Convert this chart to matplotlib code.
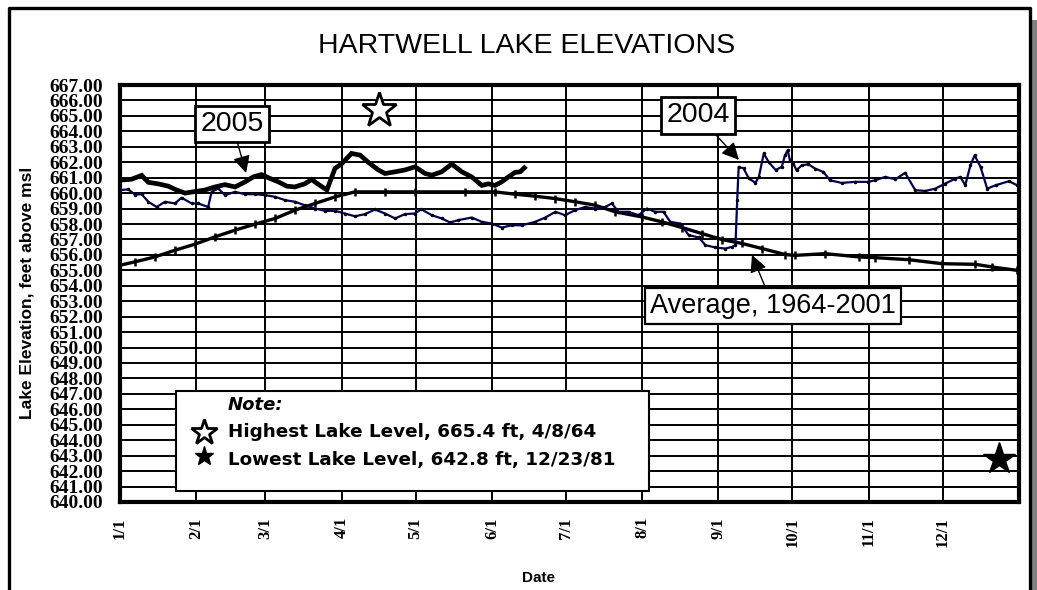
"""
Hartwell Lake elevations: 2004, 2005 and the 1964-2001 average
"""
import matplotlib
matplotlib.use("Agg")
import matplotlib.pyplot as plt
from matplotlib.patches import Rectangle
from matplotlib.lines import Line2D

# day of year -> elevation (ft above msl)
days_2005 = [0, 4.7, 8.8, 11.5, 15.5, 19.6, 23, 26.4, 30.4, 34.5, 38.6, 42.6, 46.7,
             50.8, 54.1, 57.5, 60.9, 64.3, 67.7, 71, 75, 77.8, 81.2, 84, 86, 87.3,
             90, 94, 97.5, 100.8, 104.9, 107.6, 111.7, 115.7, 119.8, 123.9, 126.6,
             130.6, 134.7, 138.8, 142.8, 146.9, 149.6, 152.3, 155, 157.7, 160.4,
             162.5, 164.2]
elev_2005 = [660.84, 660.9, 661.15, 660.7, 660.6, 660.45, 660.2, 660.0, 660.1, 660.2,
             660.4, 660.55, 660.4, 660.73, 661.05, 661.2, 660.95, 660.73, 660.45,
             660.4, 660.6, 660.88, 660.5, 660.2, 661.05, 661.6, 661.9, 662.57,
             662.46, 662.0, 661.5, 661.27, 661.38, 661.5, 661.7, 661.27, 661.16,
             661.38, 661.88, 661.38, 661.05, 660.5, 660.6, 660.5, 660.73, 661.05,
             661.34, 661.38, 661.64]

days_2004 = [0, 3.4, 6.1, 8.8, 11.5, 14.9, 18.3, 22.3, 25, 29.1, 31.8, 35.8, 37.2,
             39.9, 42.6, 46.7, 50.8, 54.8, 58.9, 63, 67.1, 71.1, 75.2, 79.3, 83.3,
             87.4, 91.3, 95.4, 99.5, 103.5, 107.6, 111.7, 115.7, 119.8, 122.3, 126.6,
             130.6, 134, 137.4, 142.8, 146.9, 151, 155, 159.1, 163.2, 168.6, 172.7,
             176.8, 180.7, 184.8, 188.8, 192.9, 197, 199.7, 202.4, 206.5, 210.5,
             213.9, 217.3, 220.7, 223.4, 227.5, 230.9, 235, 237.7, 241.7, 245.8,
             248.5, 249.9, 250.6, 251.2, 253.2, 255.3, 258, 259.4, 261.4, 263.4,
             266.2, 268.7, 270, 271.1, 272, 273.4, 274.7, 276.8, 279.5, 282.2,
             285.6, 288.3, 293, 298.5, 303.9, 306.6, 310.7, 314.8, 318.8, 322.9,
             327, 331, 335.1, 339.2, 341.2, 343.2, 345.3, 347, 349.4, 352.1, 355.5,
             360.9, 364.3]
elev_2004 = [660.2, 660.24, 659.9, 659.93, 659.44, 659.1, 659.44, 659.33, 659.7,
             659.33, 659.33, 659.1, 660.08, 660.3, 659.87, 660.08, 659.93, 659.93,
             659.87, 659.76, 659.54, 659.44, 659.2, 659.0, 658.85, 658.85, 658.68,
             658.5, 658.64, 658.94, 658.68, 658.36, 658.64, 658.68, 658.96, 658.57,
             658.36, 658.1, 658.25, 658.42, 658.14, 658.03, 657.77, 657.92, 657.92,
             658.14, 658.42, 658.79, 658.57, 658.9, 659.1, 659.0, 659.1, 659.33,
             658.79, 658.79, 658.57, 659.0, 658.79, 658.79, 658.14, 658.03, 657.28,
             657.13, 656.63, 656.48, 656.41, 656.52, 656.63, 659.54, 661.7, 661.6,
             660.95, 660.67, 661.05, 662.57, 662.0, 661.5, 661.7, 662.45, 662.78,
             662.13, 661.91, 661.48, 661.8, 661.87, 661.59, 661.37, 660.83, 660.66,
             660.73, 660.73, 660.83, 661.05, 660.9, 661.31, 660.19, 660.14, 660.29,
             660.62, 660.94, 661.05, 660.51, 661.8, 662.45, 661.7, 660.29, 660.51,
             660.77, 660.51]

days_avg = [0, 6.1, 14.2, 22.3, 30.4, 38.6, 46.7, 54.8, 63, 71.1, 79.2, 87.4, 95.4,
            107.6, 119.8, 140, 152.3, 160.4, 168.6, 176.6, 184.8, 192.9, 201, 211.9,
            220, 228.2, 236.3, 244.5, 252.6, 260.7, 270.2, 274.2, 286.4, 299.9,
            306.7, 320.2, 333.8, 347.3, 354, 364.2]
elev_avg = [655.33, 655.55, 655.87, 656.3, 656.69, 657.17, 657.6, 657.99, 658.36,
            658.9, 659.33, 659.76, 660.08, 660.08, 660.08, 660.08, 660.08, 659.93,
            659.8, 659.65, 659.44, 659.22, 658.79, 658.46, 658.14, 657.77, 657.38,
            656.99, 656.74, 656.41, 656.02, 655.97, 656.08, 655.87, 655.82, 655.69,
            655.43, 655.39, 655.22, 655.0]

month_days = [0, 31, 59, 90, 120, 151, 181, 212, 243, 273, 304, 334]
month_labels = ['1/1', '2/1', '3/1', '4/1', '5/1', '6/1', '7/1', '8/1', '9/1',
                '10/1', '11/1', '12/1']
y_ticks = list(range(640, 668))

record_high = (105.0, 665.4)
record_low = (357.0, 642.8)

sans = 'Liberation Sans'
serif = 'Liberation Serif'
wide = 'DejaVu Sans'

fig = plt.figure(figsize=(10.37, 5.90), dpi=100)
ax = fig.add_axes([0.1157, 0.1492, 0.8669, 0.7067])

ax.set_xlim(0, 365)
ax.set_ylim(640, 667)
ax.set_xticks(month_days)
ax.set_xticklabels(month_labels, rotation=90, family=serif, weight='bold', fontsize=12)
ax.set_yticks(y_ticks)
ax.set_yticklabels(['%.2f' % v for v in y_ticks], family=serif, weight='bold', fontsize=14)
ax.tick_params(axis='both', length=0)
ax.tick_params(axis='y', pad=12)
ax.tick_params(axis='x', pad=11)
ax.grid(True, color='black', lw=1.4)
ax.set_axisbelow(True)
for s in ax.spines.values():
    s.set_linewidth(3)

# series
ax.plot(days_avg, elev_avg, color='black', lw=2.4, marker='|', ms=6, mew=1.8, zorder=3)
ax.plot(days_2004, elev_2004, color='#000055', lw=1.6, marker='.', ms=3,
        mfc='black', mec='black', zorder=4)
ax.plot(days_2005, elev_2005, color='black', lw=3.4, solid_joinstyle='miter', zorder=5)

# record stars
ax.plot(*record_high, marker='*', ms=26, mfc='white', mec='black', mew=2, zorder=6)
ax.plot(*record_low, marker='*', ms=24, color='black', zorder=6)

# series labels
box = dict(boxstyle='square,pad=0.18', fc='white', ec='black', lw=2)
arrow = dict(arrowstyle='-|>', mutation_scale=26, lw=1, color='black', shrinkA=0, shrinkB=0)
ax.annotate('2005', xy=(51.2, 661.3), xytext=(45.5, 664.5), fontsize=20.5, family=sans,
            ha='center', va='center', bbox=box, arrowprops=arrow, zorder=7)
ax.annotate('2004', xy=(251.3, 662.15), xytext=(234.7, 665.03), fontsize=20.5, family=sans,
            ha='center', va='center', bbox=box, arrowprops=arrow, zorder=7)
box_avg = dict(box, lw=1.6)
ax.annotate('Average, 1964-2001', xy=(256.6, 656.0), xytext=(265.1, 652.7), fontsize=19.5,
            family=sans, ha='center', va='center', bbox=box_avg, arrowprops=arrow, zorder=7)

# note box
ax.add_patch(Rectangle((22.7, 640.71), 192.1, 6.48, fc='white', ec='black', lw=1.5, zorder=6))
ax.text(43.8, 646.25, 'Note:', family=wide, weight='bold', style='italic', fontsize=13,
        va='center', zorder=7)
ax.text(43.8, 644.5, 'Highest Lake Level, 665.4 ft, 4/8/64', family=wide, weight='bold',
        fontsize=13.2, va='center', zorder=7)
ax.text(43.8, 642.75, 'Lowest Lake Level, 642.8 ft, 12/23/81', family=wide, weight='bold',
        fontsize=13.2, va='center', zorder=7)
ax.plot(34.1, 644.55, marker='*', ms=19, mfc='white', mec='black', mew=2, zorder=7)
ax.plot(34.1, 642.95, marker='*', ms=14, color='black', zorder=7)

# titles
fig.text(0.508, 0.922, 'HARTWELL LAKE ELEVATIONS', family=sans, fontsize=20.5,
         ha='center', va='center')
fig.text(0.026, 0.503, 'Lake Elevation, feet above msl', family=sans, weight='bold',
         fontsize=12.5, rotation=90, ha='center', va='center')
fig.text(0.519, 0.02, 'Date', family=sans, weight='bold', fontsize=11,
         ha='center', va='center')

# page frame
fig.add_artist(Line2D([0.0087, 0.0087, 0.9932, 0.9932], [0, 0.9864, 0.9864, 0],
                      transform=fig.transFigure, color='black', lw=2.4))
fig.add_artist(Rectangle((0.9945, 0), 0.0055, 0.966, transform=fig.transFigure,
                         fc='#808080', ec='none'))

fig.savefig('out.png', dpi=100)
